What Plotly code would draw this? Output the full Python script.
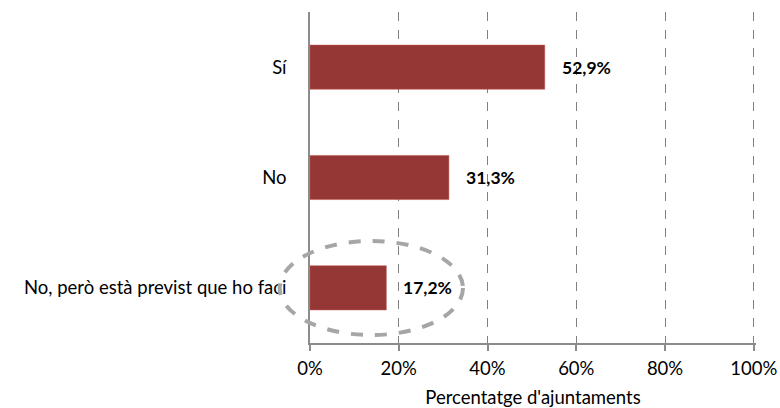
import plotly.graph_objects as go

categories = ["Sí", "No", "No, però està previst que ho faci"]
values = [52.9, 31.3, 17.2]
labels = ["52,9%", "31,3%", "17,2%"]
tick_vals = [0, 20, 40, 60, 80, 100]
tick_text = ["0%", "20%", "40%", "60%", "80%", "100%"]

FONT = "Lato"
FS = 18.5

fig = go.Figure()
fig.add_trace(go.Bar(
    y=categories, x=values, orientation="h",
    marker=dict(color="#953735", line=dict(color="#c0504d", width=0.5)),
    width=0.4,
    hoverinfo="skip",
))

for c, v, t in zip(categories, values, labels):
    fig.add_annotation(
        x=v, y=c, xref="x", yref="y", text="<b>" + t + "</b>",
        showarrow=False, xanchor="left", xshift=15,
        font=dict(family=FONT, size=FS - 1, color="#000000"),
    )

fig.update_layout(
    width=780, height=408,
    margin=dict(l=310, r=24, t=12, b=65),
    plot_bgcolor="white", paper_bgcolor="white",
    showlegend=False,
    font=dict(family=FONT, size=FS, color="#000000"),
    xaxis=dict(
        range=[0, 100.5], tickvals=tick_vals, ticktext=tick_text,
        showgrid=True, gridcolor="#808080", griddash="dash", gridwidth=1,
        showline=True, linecolor="#8c8c8c", linewidth=1.5,
        ticks="outside", ticklen=6, tickcolor="#8c8c8c", tickwidth=1.5,
        zeroline=False, automargin=False,
        ticklabelstandoff=2, ticklabeloverflow="allow",
        title=dict(text="Percentatge d'ajuntaments", standoff=16,
                   font=dict(family=FONT, size=FS, color="#000000")),
        tickfont=dict(family=FONT, size=FS, color="#000000"),
        fixedrange=True,
    ),
    yaxis=dict(
        categoryorder="array", categoryarray=categories[::-1],
        showline=True, linecolor="#8c8c8c", linewidth=1.5,
        ticks="", showgrid=False, zeroline=False, automargin=False,
        ticklabelstandoff=18,
        tickfont=dict(family=FONT, size=FS, color="#000000"),
        fixedrange=True,
    ),
    bargap=0.6,
)

fig.add_shape(
    type="circle", xref="paper", yref="paper",
    x0=-0.068, x1=0.343, y0=0.024, y1=0.308,
    line=dict(color="#a6a6a6", width=4, dash="dash"),
    fillcolor="rgba(0,0,0,0)", layer="above",
)

fig.write_html("out.html", config={"displayModeBar": False},
               post_script="document.body.style.margin='0';")
